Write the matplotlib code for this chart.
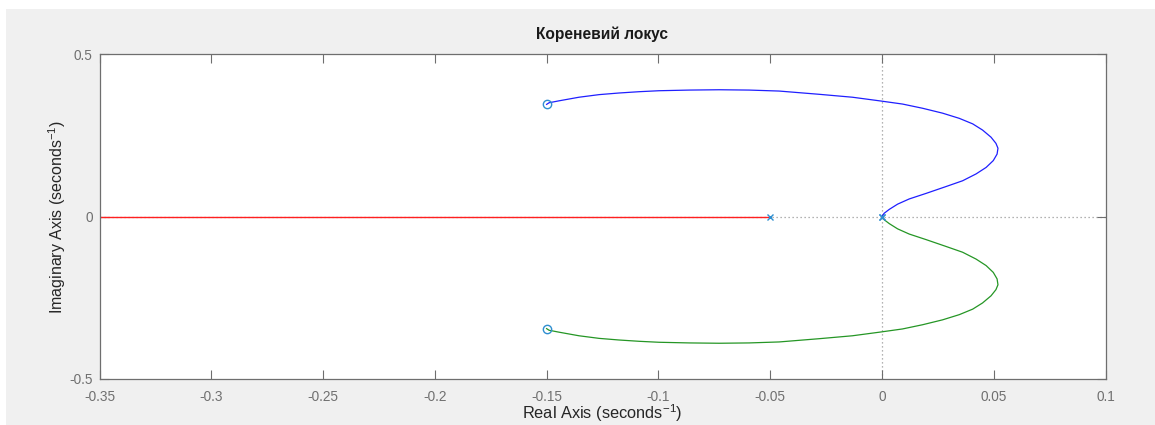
import matplotlib
matplotlib.use("Agg")
import matplotlib.pyplot as plt
from matplotlib.patches import Rectangle
from matplotlib.ticker import FuncFormatter

plt.rcParams['font.family'] = ['Liberation Sans', 'DejaVu Sans']
plt.rcParams['axes.unicode_minus'] = False
plt.rcParams['mathtext.default'] = 'regular'

title = "Кореневий локус"
xlabel = "Real Axis (seconds$^{-1}$)"
ylabel = "Imaginary Axis (seconds$^{-1}$)"

# Branch 1 (blue) (from the pole at 0 to the upper zero)
blue_re = [0.0, 0.0010, 0.0033, 0.0070, 0.0122, 0.0197, 0.0286, 0.0361, 0.0421,
           0.0466, 0.0498, 0.0515, 0.0519, 0.0510, 0.0488, 0.0450, 0.0406, 0.0346,
           0.0271, 0.0182, 0.0092, -0.0012, -0.0132, -0.0281, -0.0460, -0.0594,
           -0.0728, -0.0862, -0.0997, -0.1086, -0.1176, -0.1265, -0.1355, -0.1444,
           -0.1489, -0.150]
blue_im = [0.0, 0.010, 0.022, 0.038, 0.054, 0.071, 0.092, 0.110, 0.131,
           0.151, 0.172, 0.192, 0.210, 0.225, 0.244, 0.266, 0.285, 0.302,
           0.318, 0.333, 0.346, 0.356, 0.367, 0.376, 0.386, 0.389,
           0.390, 0.389, 0.387, 0.384, 0.380, 0.375, 0.367, 0.356,
           0.350, 0.345]
# Branch 2 (green), from the pole at 0 to the lower zero
green_re = [0.0, 0.0010, 0.0033, 0.0070, 0.0122, 0.0197, 0.0286, 0.0361, 0.0421,
            0.0466, 0.0498, 0.0515, 0.0519, 0.0510, 0.0488, 0.0450, 0.0406, 0.0346,
            0.0271, 0.0182, 0.0092, -0.0012, -0.0132, -0.0281, -0.0460, -0.0594,
            -0.0728, -0.0862, -0.0997, -0.1086, -0.1176, -0.1265, -0.1355, -0.1444,
            -0.1489, -0.150]
green_im = [0.0, -0.010, -0.022, -0.038, -0.054, -0.071, -0.092, -0.110, -0.131,
            -0.151, -0.172, -0.192, -0.210, -0.225, -0.244, -0.266, -0.285, -0.302,
            -0.318, -0.333, -0.346, -0.356, -0.367, -0.376, -0.386, -0.389,
            -0.390, -0.389, -0.387, -0.384, -0.380, -0.375, -0.367, -0.356,
            -0.350, -0.345]
# Branch 3 (red) on the real axis
red_re = [-0.05, -0.35]
red_im = [0.0, 0.0]

pole_re = [0.0, 0.0, -0.05]
pole_im = [0.0, 0.0, 0.0]
zero_re = [-0.15, -0.15]
zero_im = [0.345, -0.345]

xticks = [-0.35, -0.3, -0.25, -0.2, -0.15, -0.1, -0.05, 0, 0.05, 0.1]
yticks = [-0.5, 0, 0.5]

fig = plt.figure(figsize=(11.55, 4.25), dpi=100, facecolor='white')
fig.patches.append(Rectangle((6 / 1155, 0), 1 - 6 / 1155, 1 - 9 / 425,
                             transform=fig.transFigure, facecolor='#f0f0f0',
                             edgecolor='none', zorder=-10))
ax = fig.add_axes([99.5 / 1155, 1 - 379 / 425, 1006 / 1155, 325 / 425])
ax.set_facecolor('white')

ax.set_xlim(-0.35, 0.1)
ax.set_ylim(-0.5, 0.5)

# dotted zero lines
ax.axhline(0, color='#9a9a9a', ls=(0, (1, 2.2)), lw=0.9, zorder=1)
ax.axvline(0, color='#9a9a9a', ls=(0, (1, 2.2)), lw=0.9, zorder=1)

ax.plot(red_re, red_im, color='#ff2020', lw=1.0, zorder=2)
ax.plot(blue_re, blue_im, color='#1f1fff', lw=0.9, zorder=2,
        solid_joinstyle='round')
ax.plot(green_re, green_im, color='#259625', lw=0.9, zorder=2,
        solid_joinstyle='round')

mc = '#2f8fd0'
ax.plot(pole_re, pole_im, ls='none', marker='x', ms=5, mew=1.0, color=mc, zorder=3)
ax.plot(zero_re, zero_im, ls='none', marker='o', ms=6, mew=1.0, mfc='none',
        mec=mc, zorder=3)

ax.set_xticks(xticks)
ax.set_yticks(yticks)
fmt = FuncFormatter(lambda v, p: ('%g' % round(v, 4)))
ax.xaxis.set_major_formatter(fmt)
ax.yaxis.set_major_formatter(fmt)
ax.tick_params(direction='in', length=6.5, width=0.8, color='#6e6e6e',
               labelcolor='#707070', labelsize=9.8, top=True, right=True)
ax.tick_params(axis='x', pad=8)
ax.tick_params(axis='y', pad=5)
for s in ax.spines.values():
    s.set_color('#6e6e6e')
    s.set_linewidth(0.9)

ax.set_title(title, fontsize=11.2, fontweight='bold', color='#1a1a1a', pad=11)
ax.set_xlabel(xlabel, fontsize=11.8, color='#262626', labelpad=-1)
ax.set_ylabel(ylabel, fontsize=11.5, color='#262626', labelpad=1)

fig.savefig('out.png', dpi=100, facecolor=fig.get_facecolor())
